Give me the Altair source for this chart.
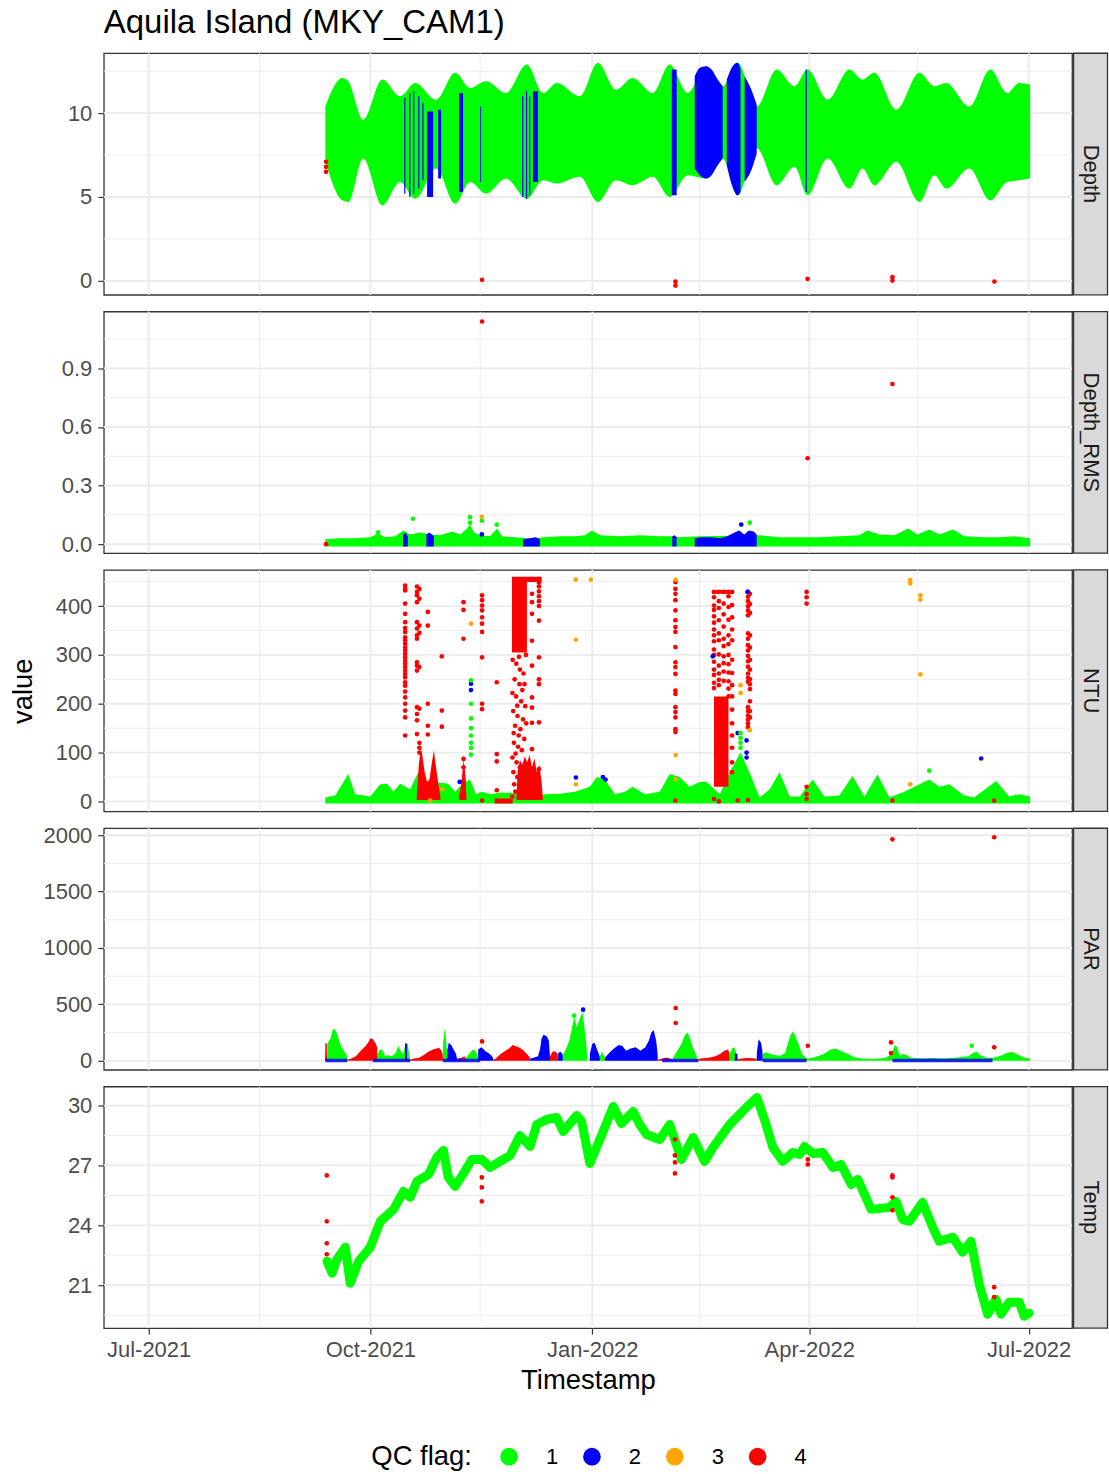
import altair as alt
import pandas as pd

FONT = "Liberation Sans"
W, H = 970, 242
GREEN, BLUE, ORANGE, RED = "#00FF00", "#0000FF", "#FFA500", "#FF0000"
GRID, DARK = "#EBEBEB", "#333333"
TICK_FS, TITLE_FS, MAIN_FS = 22, 27.5, 33

# ---------------- axis / category values ----------------
START = "2021-07-01"            # day offsets below are counted from this date
x_domain = ["2021-06-12T10:00:00", "2022-07-19T00:00:00"]
x_major = ["2021-07-01T00:00:00", "2021-10-01T00:00:00", "2022-01-01T00:00:00", "2022-04-01T00:00:00",
           "2022-07-01T00:00:00"]
x_minor = ["2021-08-16T00:00:00", "2021-11-15T12:00:00", "2022-02-14T12:00:00", "2022-05-16T00:00:00"]
qc_flags = ["1", "2", "3", "4"]
qc_colors = [GREEN, BLUE, ORANGE, RED]

# ---------------- Depth ----------------
depth_days = [73.3, 80.3, 82.8, 89.0, 96.9, 104.3, 110.6, 119.3, 127.1, 133.3, 140.0, 148.2, 156.9, 163.6,
              169.4, 178.9, 186.3, 193.8, 200.8, 209.1, 216.1, 223.6, 231.1, 238.1, 244.3, 252.2, 260.5,
              267.9, 273.3, 281.6, 290.7, 296.1, 301.0, 310.1, 319.7, 325.9, 330.8, 340.4, 349.1, 356.1,
              361.1, 365.6]
depth_hi = [10.4, 12.1, 11.9, 9.6, 12.0, 11.0, 11.8, 10.8, 12.4, 11.5, 11.9, 11.2, 12.9, 11.2, 11.8, 11.0,
            13.0, 11.4, 12.1, 11.2, 12.9, 11.2, 12.8, 11.6, 13.0, 10.4, 12.6, 11.6, 12.6, 10.8, 12.6, 12.0,
            12.4, 10.2, 12.4, 11.6, 11.8, 10.4, 12.6, 11.2, 11.8, 11.7]
depth_lo = [7.1, 4.8, 4.7, 7.3, 4.5, 5.9, 4.9, 6.7, 4.6, 5.9, 5.2, 6.1, 4.9, 6.0, 5.8, 6.2, 4.7, 6.0, 5.7,
            6.2, 5.0, 6.3, 6.1, 7.3, 5.1, 7.9, 5.7, 6.8, 5.1, 7.3, 5.5, 6.7, 5.7, 7.1, 4.7, 6.3, 5.5, 6.7,
            4.8, 5.9, 6.0, 6.1]
# flag-2 envelopes (segment, day, high, low)
depth_blue_area = [(0, 226.5, 12.2, 6.7), (0, 228.6, 12.7, 6.3), (0, 231.1, 12.8, 6.1), (0, 233.5, 12.6, 6.3),
                   (0, 236.0, 12.0, 6.9), (0, 238.1, 11.6, 7.3),
                   (1, 239.8, 12.0, 6.9), (1, 242.2, 12.8, 5.6), (1, 244.3, 13.0, 5.1), (1, 245.5, 12.6, 5.3),
                   (2, 247.2, 12.2, 5.9), (2, 249.7, 11.5, 6.5), (2, 252.2, 10.5, 7.6)]
# flag-2 streaks (start day, end day, top, bottom)
depth_blue_streaks = [(106.0, 106.5, 10.9, 5.2), (108.1, 108.6, 11.2, 5.0), (109.7, 110.2, 11.3, 5.2),
                      (111.8, 112.3, 11.0, 5.5), (113.5, 114.0, 10.6, 6.0), (115.5, 118.0, 10.1, 5.0),
                      (120.1, 121.3, 10.2, 6.1), (128.8, 130.4, 11.2, 5.3), (137.5, 137.9, 10.4, 5.9),
                      (154.9, 155.4, 11.0, 5.0), (156.5, 157.0, 11.3, 4.9), (157.8, 158.3, 11.0, 5.1),
                      (159.4, 161.5, 11.3, 5.9), (217.0, 219.0, 12.6, 5.1), (272.5, 273.0, 12.6, 5.3)]
depth_pts_days = [73.6, 73.6, 73.6, 138.3, 218.5, 218.5, 273.3, 308.5, 308.5, 350.8]
depth_pts_vals = [6.5, 6.8, 7.1, 0.06, -0.04, -0.28, 0.12, 0.22, 0.02, -0.04]
depth_pts_flag = ["4"] * 10

# ---------------- Depth_RMS ----------------
rms_days = [73.3, 79.5, 85.7, 91.9, 95.2, 98.1, 102.3, 105.6, 108.5, 112.6, 116.8, 120.9, 125.9, 129.2,
            132.1, 133.3, 135.0, 137.5, 141.6, 144.5, 146.6, 152.0, 158.2, 164.4, 170.6, 176.8, 181.0,
            183.9, 187.2, 195.4, 203.7, 212.0, 216.9, 220.3, 228.6, 253.4, 261.7, 270.0, 278.3, 286.5,
            294.8, 298.1, 303.1, 309.3, 315.1, 318.8, 323.8, 328.0, 333.7, 338.3, 346.6, 352.8, 359.0, 365.6]
rms_hi = [0.025, 0.03, 0.03, 0.035, 0.055, 0.035, 0.04, 0.07, 0.05, 0.06, 0.05, 0.045, 0.065, 0.05, 0.08,
          0.1, 0.06, 0.045, 0.04, 0.08, 0.04, 0.035, 0.03, 0.035, 0.04, 0.04, 0.045, 0.07, 0.045, 0.04,
          0.045, 0.04, 0.04, 0.035, 0.04, 0.045, 0.035, 0.035, 0.035, 0.04, 0.045, 0.07, 0.05, 0.045,
          0.08, 0.05, 0.075, 0.05, 0.075, 0.04, 0.035, 0.035, 0.04, 0.03]
rms_blue_area = [(0, 105.5, 0.05), (0, 106.5, 0.06), (0, 107.5, 0.04),
                 (1, 115.2, 0.05), (1, 116.5, 0.06), (1, 118.3, 0.04),
                 (2, 155.3, 0.025), (2, 158.0, 0.03), (2, 160.5, 0.035), (2, 162.3, 0.025),
                 (3, 217.2, 0.04), (3, 218.2, 0.045), (3, 219.0, 0.035),
                 (4, 226.5, 0.03), (4, 229.0, 0.035), (4, 233.0, 0.035), (4, 237.0, 0.03), (4, 240.0, 0.04),
                 (4, 243.0, 0.06), (4, 245.0, 0.07), (4, 247.0, 0.05), (4, 249.0, 0.07), (4, 251.0, 0.065),
                 (4, 252.2, 0.05)]
rms_pts_days = [109.6, 133.3, 133.3, 138.2, 144.4, 249.3, 95.2, 138.2, 138.2, 245.8, 73.6, 138.3, 273.3, 308.5]
rms_pts_vals = [0.13, 0.138, 0.11, 0.12, 0.1, 0.11, 0.06, 0.14, 0.05, 0.1, 0.0, 1.14, 0.44, 0.82]
rms_pts_flag = ["1", "1", "1", "1", "1", "1", "1", "3", "2", "2", "4", "4", "4", "4"]

# ---------------- NTU ----------------
ntu_green_area = [(73.3, 8), (77.4, 12), (82.8, 56), (85.7, 15), (91.9, 10), (96.1, 35), (99.0, 36),
                  (101.4, 20), (104.3, 36), (108.5, 25), (111.8, 60), (114.7, 30), (118.8, 40), (124.2, 36),
                  (127.1, 20), (130.0, 35), (133.3, 45), (135.8, 15), (138.3, 20), (141.6, 15), (145.8, 18),
                  (149.9, 18), (158.2, 10), (164.4, 15), (170.6, 16), (176.8, 20), (183.0, 30), (185.9, 50),
                  (189.2, 45), (193.4, 15), (197.5, 20), (200.8, 30), (205.8, 15), (212.0, 20), (216.1, 56),
                  (220.3, 50), (224.4, 30), (228.6, 40), (231.5, 40), (236.9, 15), (241.0, 60), (245.5, 100),
                  (249.2, 60), (253.4, 8), (257.6, 25), (261.7, 60), (265.8, 10), (270.0, 10), (275.4, 45),
                  (280.3, 10), (286.5, 12), (291.9, 52), (296.9, 10), (302.3, 55), (307.2, 8), (313.5, 20),
                  (317.6, 30), (323.8, 45), (328.0, 30), (332.1, 35), (338.3, 12), (342.4, 8), (351.5, 42),
                  (356.9, 10), (361.1, 15), (365.6, 10)]
# flag-4 lumps near the bottom (segment, day, high)
ntu_red_lumps = [(0, 111.2, 10), (0, 112.0, 70), (0, 112.8, 110), (0, 113.5, 95), (0, 114.5, 60),
                 (0, 115.5, 40), (0, 116.5, 45), (0, 117.5, 80), (0, 118.3, 105), (0, 119.2, 70),
                 (0, 120.2, 35), (0, 121.0, 10),
                 (1, 128.8, 10), (1, 129.8, 40), (1, 130.6, 85), (1, 131.3, 60), (1, 131.8, 10),
                 (2, 152.5, 0), (2, 153.0, 60), (2, 154.0, 85), (2, 155.0, 75), (2, 156.0, 92), (2, 157.0, 80),
                 (2, 158.0, 95), (2, 159.0, 70), (2, 160.0, 88), (2, 161.0, 60), (2, 162.0, 75), (2, 163.0, 40),
                 (2, 163.6, 0)]
# dense flag-4 blocks (start day, end day, low, high)
ntu_red_blocks = [(143.5, 151.0, -4, 6), (150.7, 156.9, 305, 455), (150.7, 163.0, 449, 460),
                  (234.5, 240.5, 30, 215), (234.0, 242.3, 425, 433)]
# flag-4 columns of readings (day, values)
ntu_red_columns = [
    (106.4, [442, 436, 432, 405, 384, 367, 355, 347, 336, 330, 323, 315, 309, 302, 295, 288, 282, 275, 268,
             261, 254, 244, 237, 225, 213, 200, 186, 172, 135]),
    (111.3, [440, 429, 422, 408, 367, 354, 340, 333, 285, 278, 268, 193, 179, 166, 138]),
    (112.3, [435, 415, 360, 345, 275, 190, 120, 110, 100]),
    (115.8, [388, 360, 200, 155, 137]),
    (121.6, [297, 186, 153]),
    (130.6, [408, 392, 333, 87, 70, 42]),
    (138.3, [422, 412, 401, 391, 377, 364, 347, 295, 200, 189, 2]),
    (144.4, [244, 97, 82, 23]),
    (159.0, [455, 425, 408, 384, 329, 278, 213, 192, 161, 107]),
    (161.9, [455, 448, 440, 430, 420, 410, 400, 370, 295, 250, 240, 162, 66]),
    (218.5, [449, 435, 425, 412, 391, 371, 357, 347, 316, 285, 275, 261, 227, 220, 193, 183, 172, 148, 142, 2]),
    (234.5, [429, 418, 401, 392, 379, 366, 352, 340, 328, 311, 300, 286, 270, 259, 243, 232, 5]),
    (236.5, [429, 410, 396, 371, 344, 330, 301, 278, 262, 249, 238, 0]),
    (238.5, [429, 405, 383, 358, 333, 318, 297, 283, 266, 247]),
    (240.5, [429, 420, 398, 372, 340, 322, 300, 281, 264, 246, 231, 215]),
    (242.0, [429, 402, 377, 352, 330, 290, 263, 238, 215, 188, 160, 135, 110, 80, 60]),
    (244.3, [2]),
    (248.6, [429, 419, 410, 400, 391, 381, 344, 333, 320, 309, 298, 287, 276, 262, 253, 245, 193, 185, 176,
             168, 160, 152, 3]),
    (249.4, [425, 404, 386, 340, 315, 290, 270, 250, 240, 230, 205, 185, 172]),
    (272.9, [429, 418, 405, 30, 15, 5]),
    (308.5, [2]),
    (350.7, [2]),
]
ntu_red_scatter = [(151.0, 290), (152.5, 282), (154.0, 270), (155.5, 262), (151.8, 250), (153.8, 240),
                   (155.0, 228), (152.4, 215), (154.5, 205), (156.2, 195), (151.2, 185), (153.0, 175),
                   (155.3, 168), (152.0, 155), (154.2, 148), (153.5, 135), (155.8, 128), (151.5, 120),
                   (153.2, 112), (154.8, 105), (152.2, 98), (150.9, 90), (152.6, 80), (154.0, 70),
                   (151.3, 60), (152.9, 50), (151.6, 35), (152.1, 20), (150.8, 10), (156.5, 300),
                   (153.6, 296), (155.9, 240), (150.9, 222), (152.9, 196), (156.6, 160), (151.4, 140)]
ntu_orange = [(133.7, 364), (177.2, 454), (177.2, 331), (177.2, 35), (183.4, 454), (218.6, 454), (218.6, 95),
              (218.6, 46), (245.5, 238), (245.5, 222), (249.3, 146), (315.9, 453), (315.9, 446), (315.9, 35),
              (320.1, 422), (320.1, 413), (320.1, 260), (121.9, 25), (116.8, 2)]
ntu_blue = [(133.7, 241), (133.7, 228), (177.2, 49), (129.0, 40), (234.0, 297), (248.4, 429), (244.3, 140),
            (248.0, 125), (248.0, 100), (248.0, 90), (345.3, 88), (188.4, 50), (189.5, 45)]
ntu_green = [(133.7, 248), (133.7, 200), (133.7, 170), (133.7, 150), (133.7, 135), (133.7, 120), (133.7, 110),
             (133.7, 96), (245.5, 140), (245.5, 130), (245.5, 120), (245.5, 110), (323.8, 63)]

# ---------------- PAR ----------------
par_green = [(74.0, 0), (74.1, 150), (75.5, 200), (76.3, 270), (77.0, 285), (78.0, 250), (79.0, 180), (80.0, 120),
             (81.0, 90), (82.4, 40), (82.5, 0),
             (94.8, 0), (94.9, 60), (96.0, 100), (97.0, 95), (98.1, 40), (99.5, 50), (101.0, 40), (102.5, 70),
             (103.5, 130), (104.5, 90), (105.5, 60), (106.5, 140), (107.5, 150), (108.2, 30), (108.3, 0),
             (122.0, 0), (122.1, 150), (122.8, 290), (123.3, 200), (123.8, 60), (123.9, 0),
             (131.6, 0), (131.7, 30), (133.0, 60), (134.0, 90), (135.0, 100), (136.0, 70), (136.6, 30), (136.7, 0),
             (171.7, 0), (171.8, 50), (173.0, 100), (174.5, 180), (175.5, 280), (176.5, 390), (177.5, 300),
             (179.0, 380), (180.0, 430), (181.0, 250), (181.8, 80), (181.9, 0),
             (187.1, 0), (187.2, 40), (188.0, 80), (189.2, 30), (189.3, 0),
             (217.3, 0), (217.4, 20), (219.0, 80), (221.0, 150), (222.5, 230), (223.6, 250), (224.5, 200),
             (225.5, 130), (227.3, 40), (227.4, 0),
             (240.9, 0), (241.0, 60), (242.0, 110), (243.0, 120), (243.9, 40), (244.0, 0),
             (254.6, 0), (254.7, 60), (256.0, 75), (258.0, 60), (260.0, 50), (262.0, 45), (264.0, 70),
             (265.5, 180), (266.5, 240), (267.5, 260), (268.5, 200), (269.5, 150), (271.0, 60), (273.0, 20),
             (276.0, 30), (280.0, 60), (283.0, 100), (285.0, 110), (287.0, 90), (290.0, 60), (293.0, 30),
             (296.0, 20), (300.0, 15), (303.0, 20), (306.0, 30), (308.0, 60), (309.5, 140), (310.5, 120),
             (311.4, 50), (313.0, 60), (314.5, 50), (316.0, 30), (320.0, 20), (325.0, 25), (330.0, 20),
             (335.0, 30), (340.0, 40), (342.0, 70), (343.5, 80), (345.0, 50), (348.0, 25), (351.0, 30),
             (354.0, 50), (356.0, 70), (358.0, 80), (360.0, 60), (363.0, 30), (365.6, 20)]
par_red = [(73.2, 0), (73.3, 160), (73.9, 150), (74.0, 0),
           (82.4, 0), (82.5, 10), (84.0, 20), (86.0, 40), (88.0, 90), (90.0, 130), (91.0, 160), (92.0, 200),
           (93.0, 190), (94.0, 160), (94.8, 120), (94.9, 0),
           (108.2, 0), (108.3, 10), (110.0, 20), (112.0, 25), (114.0, 50), (116.0, 80), (118.0, 100),
           (119.5, 110), (120.5, 115), (121.5, 90), (122.0, 50), (122.1, 0),
           (127.9, 0), (128.0, 15), (129.0, 25), (130.0, 30), (131.0, 40), (131.6, 20), (131.7, 0),
           (142.8, 0), (142.9, 10), (144.0, 20), (146.0, 60), (148.0, 90), (149.5, 110), (151.0, 140),
           (152.0, 130), (153.5, 120), (155.0, 100), (156.5, 70), (158.1, 30), (158.2, 0),
           (166.4, 0), (166.5, 40), (167.5, 80), (168.5, 85), (169.7, 60), (169.8, 0),
           (211.1, 0), (211.2, 10), (213.0, 20), (215.0, 30), (217.3, 10), (217.4, 0),
           (227.3, 0), (227.4, 10), (229.0, 20), (231.0, 25), (233.0, 30), (235.0, 40), (237.0, 60),
           (238.5, 85), (240.0, 100), (240.9, 80), (241.0, 0),
           (244.2, 0), (244.3, 15), (248.0, 25), (252.1, 20), (252.2, 0)]
par_blue = [(106.3, 0), (106.4, 160), (107.1, 150), (107.2, 0),
            (123.8, 0), (123.9, 100), (124.5, 160), (125.5, 140), (126.5, 100), (127.5, 60), (127.9, 20), (128.0, 0),
            (136.6, 0), (136.7, 100), (138.0, 120), (139.0, 100), (140.0, 80), (141.0, 70), (142.0, 50),
            (142.8, 30), (142.9, 0),
            (158.2, 0), (158.3, 20), (160.0, 30), (161.5, 40), (162.3, 100), (163.0, 200), (163.8, 230),
            (165.0, 220), (166.0, 180), (166.4, 60), (166.5, 0),
            (169.8, 0), (169.9, 70), (170.8, 80), (171.7, 60), (171.8, 0),
            (182.9, 0), (183.0, 60), (184.0, 150), (185.0, 160), (186.0, 100), (187.1, 40), (187.2, 0),
            (189.2, 0), (189.3, 30), (191.0, 70), (193.0, 110), (195.0, 140), (196.5, 130), (198.0, 90),
            (200.0, 110), (202.0, 120), (204.0, 90), (206.0, 120), (207.5, 180), (208.5, 250), (209.5, 270),
            (210.5, 180), (211.1, 60), (211.2, 0),
            (243.1, 0), (243.2, 70), (244.2, 60), (244.3, 0),
            (252.2, 0), (252.3, 80), (253.0, 190), (254.0, 160), (254.6, 80), (254.7, 0)]
par_blue_baseline = [(73.3, 82.4), (93.0, 108.5), (122.0, 137.5), (213.0, 228.0), (254.7, 272.9), (308.5, 350.0)]
par_pts = [(138.3, 172, "4"), (218.6, 468, "4"), (218.6, 335, "4"), (273.4, 133, "4"), (307.9, 163, "4"),
           (307.9, 68, "4"), (350.7, 119, "4"), (308.5, 1964, "4"), (350.7, 1982, "4"), (180.2, 453, "2"),
           (341.4, 133, "1"), (176.5, 400, "1")]

# ---------------- Temp ----------------
temp_line = [(74.0, 22.2), (76.1, 21.6), (78.1, 22.3), (81.6, 22.9), (83.6, 21.1), (87.1, 22.2), (91.9, 22.9),
             (96.1, 24.2), (101.6, 24.8), (105.7, 25.7), (108.5, 25.4), (111.3, 26.2), (116.1, 26.55),
             (119.5, 27.4), (122.3, 27.75), (124.3, 26.4), (127.1, 25.95), (130.6, 26.6), (134.0, 27.3),
             (138.2, 27.3), (141.6, 26.9), (145.8, 27.2), (149.9, 27.5), (154.0, 28.5), (158.2, 27.95),
             (161.0, 29.05), (165.1, 29.3), (169.2, 29.4), (172.0, 28.7), (177.5, 29.5), (179.6, 29.2),
             (183.0, 27.1), (188.5, 28.7), (192.7, 29.95), (196.1, 29.1), (201.0, 29.7), (203.7, 29.05),
             (206.5, 28.55), (212.0, 28.3), (216.1, 29.05), (221.0, 27.3), (225.8, 28.4), (230.6, 27.2),
             (234.1, 27.9), (241.0, 29.05), (247.9, 29.9), (252.3, 30.4), (256.1, 29.05), (258.9, 27.9),
             (263.0, 27.2), (267.2, 27.65), (270.0, 27.55), (272.0, 27.95), (275.5, 27.6), (279.6, 27.65),
             (283.8, 26.9), (287.2, 27.05), (291.4, 26.05), (294.1, 26.3), (299.7, 24.8), (307.2, 24.9),
             (310.0, 25.2), (312.7, 24.3), (315.5, 24.2), (321.0, 25.15), (325.2, 23.9), (327.9, 23.2),
             (333.5, 23.4), (337.6, 22.65), (341.1, 23.2), (344.5, 21.05), (348.0, 19.55), (351.4, 20.3),
             (353.5, 19.55), (356.9, 20.15), (361.1, 20.15), (363.1, 19.45), (365.2, 19.6)]
temp_pts = [(73.9, 26.5), (73.9, 24.2), (73.9, 23.1), (73.9, 22.55), (138.2, 26.4), (138.2, 25.9), (138.2, 25.2),
            (218.3, 28.3), (218.3, 27.5), (218.3, 27.15), (218.3, 26.6), (273.4, 27.05), (273.4, 27.3),
            (308.5, 26.5), (308.5, 26.4), (308.5, 25.4), (308.5, 24.75), (350.7, 20.9), (350.7, 20.4)]


# ---------------- helpers ----------------
def to_time(days):
    return pd.Timestamp(START) + pd.to_timedelta(list(days), unit="D")


def dt(s):
    ts = pd.Timestamp(s)
    return alt.DateTime(year=ts.year, month=ts.month, date=ts.day, hours=ts.hour, minutes=ts.minute)


def pts_frame(days, vals, flags):
    df = pd.DataFrame({"v": list(vals), "flag": list(flags)})
    df["t"] = to_time(days)
    return df


def rect_frame(rows, c3, c4):
    df = pd.DataFrame(rows, columns=["d1", "d2", c3, c4])
    df["t1"] = to_time(df["d1"])
    df["t2"] = to_time(df["d2"])
    return df


X_SCALE = alt.Scale(domain=[dt(x_domain[0]), dt(x_domain[1])])
C_SCALE = alt.Scale(domain=qc_flags, range=qc_colors)
LEGEND = alt.Legend(title="QC flag:", orient="none", legendX=268, legendY=1395, direction="horizontal",
                    titleOrient="left", titleFont=FONT, titleFontSize=TITLE_FS, titleFontWeight="normal",
                    titleColor="black", labelFont=FONT, labelFontSize=TICK_FS, labelColor="black",
                    symbolType="circle", symbolSize=314, symbolStrokeWidth=0, symbolOpacity=1,
                    labelOffset=26, columnPadding=22, titlePadding=26)


def panel(label, ydom, ymaj, ymin, yfmt, build, bottom=False, show_ytitle=False, title=None):
    if bottom:
        xax = alt.Axis(values=[dt(s) for s in x_major], format="%b-%Y", grid=False, domain=False,
                       tickSize=6, tickColor=DARK, tickWidth=1.2, labelFont=FONT, labelFontSize=TICK_FS,
                       labelColor="#4D4D4D", labelPadding=5, labelFlush=False, labelOverlap=False,
                       title="Timestamp", titleFont=FONT, titleFontSize=TITLE_FS, titleFontWeight="normal",
                       titleColor="black", titlePadding=6)
    else:
        xax = None
    ysc = alt.Scale(domain=ydom, nice=False, zero=False)
    yax = alt.Axis(values=ymaj, format=yfmt, grid=False, domain=False, tickSize=6, tickColor=DARK,
                   tickWidth=1.2, labelFont=FONT, labelFontSize=TICK_FS, labelColor="#4D4D4D", labelPadding=6,
                   minExtent=60, maxExtent=60, title="value", titleFont=FONT, titleFontSize=TITLE_FS,
                   titleFontWeight="normal", titleColor="black", titleOpacity=1 if show_ytitle else 0,
                   titlePadding=6)

    def X(f="t"):
        return alt.X(f + ":T", scale=X_SCALE, axis=xax)

    def Y(f="v"):
        return alt.Y(f + ":Q", scale=ysc, axis=yax)

    def COLOR():
        return alt.Color("flag:N", scale=C_SCALE, legend=LEGEND)

    vmaj = pd.DataFrame({"t": [pd.Timestamp(s) for s in x_major]})
    vmin = pd.DataFrame({"t": [pd.Timestamp(s) for s in x_minor]})
    grid = [
        alt.Chart(vmin).mark_rule(color=GRID, strokeWidth=0.9).encode(x=X()),
        alt.Chart(pd.DataFrame({"v": ymin})).mark_rule(color=GRID, strokeWidth=0.9).encode(y=Y()),
        alt.Chart(vmaj).mark_rule(color=GRID, strokeWidth=1.8).encode(x=X()),
        alt.Chart(pd.DataFrame({"v": ymaj})).mark_rule(color=GRID, strokeWidth=1.8).encode(y=Y()),
    ]
    sdf = pd.DataFrame({"s": [label]})
    strip = [
        alt.Chart(sdf).mark_rect(fill="#D9D9D9", stroke=DARK, strokeWidth=1.3).encode(
            x=alt.value(W + 1.5), x2=alt.value(W + 35.5), y=alt.value(0), y2=alt.value(H)),
        alt.Chart(sdf).mark_text(angle=90, font=FONT, fontSize=TICK_FS, color="#1A1A1A", align="center",
                                 baseline="middle").encode(x=alt.value(W + 18.5), y=alt.value(H / 2), text="s:N"),
    ]
    ch = alt.layer(*grid, *build(X, Y, COLOR), *strip).properties(width=W, height=H)
    if title:
        ch = ch.properties(title=alt.TitleParams(title, anchor="start", frame="group", font=FONT,
                                                 fontSize=MAIN_FS, fontWeight="normal", color="black",
                                                 offset=12))
    return ch


# ---------------- panel layers ----------------
def depth_layers(X, Y, COLOR):
    band = pd.DataFrame({"hi": depth_hi, "lo": depth_lo})
    band["t"] = to_time(depth_days)
    barea = pd.DataFrame(depth_blue_area, columns=["seg", "d", "hi", "lo"])
    barea["t"] = to_time(barea["d"])
    streaks = rect_frame(depth_blue_streaks, "hi", "lo")
    pts = pts_frame(depth_pts_days, depth_pts_vals, depth_pts_flag)
    return [
        alt.Chart(band).mark_area(color=GREEN, interpolate="monotone", clip=True).encode(
            x=X(), y=Y("hi"), y2=alt.Y2("lo")),
        alt.Chart(barea).mark_area(color=BLUE, interpolate="monotone", clip=True).encode(
            x=X(), y=Y("hi"), y2=alt.Y2("lo"), detail="seg:N"),
        alt.Chart(streaks).mark_rect(color=BLUE, clip=True).encode(
            x=X("t1"), x2=alt.X2("t2"), y=Y("hi"), y2=alt.Y2("lo")),
        alt.Chart(pts).mark_circle(size=22, opacity=1, clip=True).encode(x=X(), y=Y(), color=COLOR()),
    ]


def rms_layers(X, Y, COLOR):
    band = pd.DataFrame({"hi": rms_hi, "lo": [-0.012] * len(rms_hi)})
    band["t"] = to_time(rms_days)
    barea = pd.DataFrame(rms_blue_area, columns=["seg", "d", "hi"])
    barea["lo"] = -0.012
    barea["t"] = to_time(barea["d"])
    pts = pts_frame(rms_pts_days, rms_pts_vals, rms_pts_flag)
    return [
        alt.Chart(band).mark_area(color=GREEN, clip=True).encode(x=X(), y=Y("hi"), y2=alt.Y2("lo")),
        alt.Chart(barea).mark_area(color=BLUE, clip=True).encode(
            x=X(), y=Y("hi"), y2=alt.Y2("lo"), detail="seg:N"),
        alt.Chart(pts).mark_circle(size=22, opacity=1, clip=True).encode(x=X(), y=Y(), color=COLOR()),
    ]


def ntu_layers(X, Y, COLOR):
    g = pd.DataFrame(ntu_green_area, columns=["d", "hi"])
    g["lo"] = -4
    g["t"] = to_time(g["d"])
    lumps = pd.DataFrame(ntu_red_lumps, columns=["seg", "d", "hi"])
    lumps["lo"] = 3
    lumps["t"] = to_time(lumps["d"])
    blocks = rect_frame(ntu_red_blocks, "lo", "hi")
    rd, rv = [], []
    for day, vals in ntu_red_columns:
        rd += [day] * len(vals)
        rv += vals
    for day, val in ntu_red_scatter:
        rd.append(day)
        rv.append(val)
    days = rd + [p[0] for p in ntu_orange] + [p[0] for p in ntu_blue] + [p[0] for p in ntu_green]
    vals = rv + [p[1] for p in ntu_orange] + [p[1] for p in ntu_blue] + [p[1] for p in ntu_green]
    flags = ["4"] * len(rd) + ["3"] * len(ntu_orange) + ["2"] * len(ntu_blue) + ["1"] * len(ntu_green)
    pts = pts_frame(days, vals, flags)
    return [
        alt.Chart(g).mark_area(color=GREEN, clip=True).encode(x=X(), y=Y("hi"), y2=alt.Y2("lo")),
        alt.Chart(lumps).mark_area(color=RED, clip=True).encode(
            x=X(), y=Y("hi"), y2=alt.Y2("lo"), detail="seg:N"),
        alt.Chart(blocks).mark_rect(color=RED, clip=True).encode(
            x=X("t1"), x2=alt.X2("t2"), y=Y("lo"), y2=alt.Y2("hi")),
        alt.Chart(pts).mark_circle(size=22, opacity=1, clip=True).encode(x=X(), y=Y(), color=COLOR()),
    ]


def par_layers(X, Y, COLOR):
    def area(rows, col):
        df = pd.DataFrame(rows, columns=["d", "hi"])
        df["lo"] = 0
        df["t"] = to_time(df["d"])
        return alt.Chart(df).mark_area(color=col, clip=True).encode(x=X(), y=Y("hi"), y2=alt.Y2("lo"))
    base = pd.DataFrame(par_blue_baseline, columns=["d1", "d2"])
    base["t1"] = to_time(base["d1"])
    base["t2"] = to_time(base["d2"])
    base["lo"] = -12
    base["hi"] = 18
    pts = pts_frame([p[0] for p in par_pts], [p[1] for p in par_pts], [p[2] for p in par_pts])
    return [
        area(par_green, GREEN), area(par_red, RED), area(par_blue, BLUE),
        alt.Chart(base).mark_rect(color=BLUE, opacity=0.85, clip=True).encode(
            x=X("t1"), x2=alt.X2("t2"), y=Y("lo"), y2=alt.Y2("hi")),
        alt.Chart(pts).mark_circle(size=22, opacity=1, clip=True).encode(x=X(), y=Y(), color=COLOR()),
    ]


def temp_layers(X, Y, COLOR):
    line = pd.DataFrame(temp_line, columns=["d", "v"])
    line["t"] = to_time(line["d"])
    pts = pts_frame([p[0] for p in temp_pts], [p[1] for p in temp_pts], ["4"] * len(temp_pts))
    return [
        alt.Chart(line).mark_line(color=GREEN, strokeWidth=9, strokeJoin="round", strokeCap="round",
                                  clip=True).encode(x=X(), y=Y()),
        alt.Chart(pts).mark_circle(size=22, opacity=1, clip=True).encode(x=X(), y=Y(), color=COLOR()),
    ]


p1 = panel("Depth", [-0.83, 13.57], [0, 5, 10], [2.5, 7.5, 12.5], "d", depth_layers,
           title="Aquila Island (MKY_CAM1)")
p2 = panel("Depth_RMS", [-0.046, 1.191], [0, 0.3, 0.6, 0.9], [0.15, 0.45, 0.75, 1.05], ".1f", rms_layers)
p3 = panel("NTU", [-20.5, 474], [0, 100, 200, 300, 400], [50, 150, 250, 350, 450], "d", ntu_layers,
           show_ytitle=True)
p4 = panel("PAR", [-80, 2062], [0, 500, 1000, 1500, 2000], [250, 750, 1250, 1750], "d", par_layers)
p5 = panel("Temp", [18.85, 30.95], [21, 24, 27, 30], [19.5, 22.5, 25.5, 28.5], "d", temp_layers, bottom=True)

chart = alt.vconcat(p1, p2, p3, p4, p5, spacing=16.8, bounds="flush").resolve_scale(
    color="shared").resolve_legend(color="shared").properties(
    padding={"left": 9, "top": 5, "right": 0, "bottom": 5}).configure_view(
    stroke=DARK, strokeWidth=1.3)

chart.save("out.html", embed_options={"renderer": "svg", "actions": False})
